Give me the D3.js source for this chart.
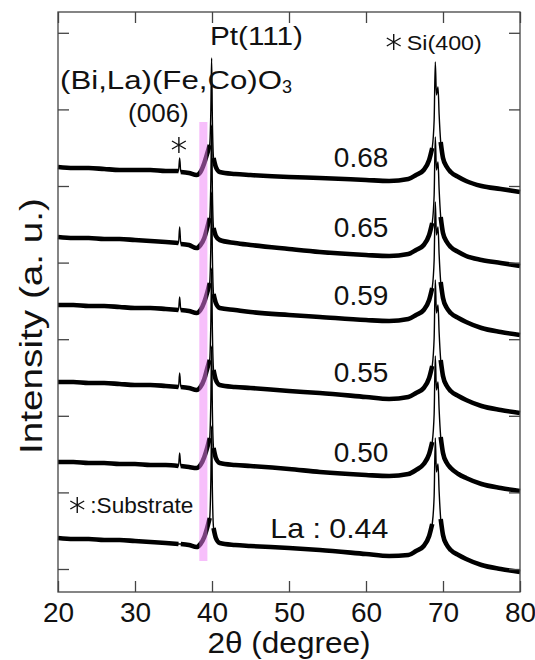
<!DOCTYPE html>
<html><head><meta charset="utf-8">
<script src="https://cdn.jsdelivr.net/npm/d3@7"></script>
<style>
body{margin:0;background:#fff}
svg{display:block}
text{font-family:"Liberation Sans",Arial,sans-serif;fill:#111}
</style>
</head><body>
<svg id="c" width="535" height="660"></svg>
<script>
// ---- data (2θ in degrees, intensity in arbitrary units, curves already offset) ----
const twoTheta = [20,22,24,26,28,30,32,34,35.65,35.8,35.95,37,38,38.5,39.0,39.4,39.7,39.85,39.95,40.05,40.2,40.5,41,43,45,50,54,60,63,65.5,66.5,67.5,68.2,68.6,68.85,69.0,69.15,69.35,69.5,69.7,70,70.5,71,72,73,75,77.5,80];
const intensity068 = [425,424,424,423,422,422,422,421,421,434,420,419,417,420,429,439,447,482,534,472,434,425,420,418,417,415,414,412,411,413,417,422,432,444,472,530,497,505,477,450,434,425,420,415,411,406,403,400];
const intensity065 = [355,354,354,353,353,352,351,350,349,365,348,347,344,347,354,365,374,412,467,402,364,356,352,349,347,343,340,337,336,338,342,347,357,369,397,455,422,430,402,375,359,350,345,340,336,332,329,326];
const intensity059 = [287,287,286,286,285,284,284,283,282,295,282,281,279,282,290,300,309,347,400,337,298,289,284,282,280,277,275,272,271,273,277,282,292,304,332,390,357,365,337,310,294,284,279,274,270,264,260,257];
const intensity055 = [210,210,209,209,208,207,207,206,205,219,205,204,202,205,213,224,232,270,324,262,222,212,207,205,204,201,199,195,193,195,199,204,214,226,254,312,279,287,259,232,216,206,201,196,192,186,182,179];
const intensity050 = [130,130,129,129,128,128,127,127,126,139,126,125,124,127,135,145,154,192,246,182,144,134,129,127,126,123,120,117,116,118,122,128,138,150,178,236,202,210,182,155,139,129,124,118,114,108,104,101];
const intensity044 = [54,53,53,52,52,51,50,49,48,48,48,47,45,48,55,65,74,112,166,102,64,54,49,47,46,44,42,38,36,37,41,46,56,68,96,154,120,128,100,73,57,47,42,37,33,27,23,20];
const seriesValues = [intensity068,intensity065,intensity059,intensity055,intensity050,intensity044];
const seriesLabels = ["0.68","0.65","0.59","0.55","0.50","La : 0.44"];
const xTicks = [20,30,40,50,60,70,80];
const yTicks = [23,99.6,176.2,252.8,329.4,406,482.6,559.2];
const bfoBand = [38.35, 39.4];     // (006) highlight range in 2θ
const bfoBandI = [31, 470];         // its intensity extent
const substratePeak = 35.7;

// ---- drawing ----
const svg = d3.select("#c");
const x = d3.scaleLinear().domain([20,80]).range([58,520]);
const y = d3.scaleLinear().domain([0,580]).range([592,12]);
const X0=x.range()[0], X1=x.range()[1], Y0=y.range()[0], Y1=y.range()[1];

const line = d3.line().curve(d3.curveMonotoneX).x(d=>x(d[0])).y(d=>y(d[1]));
const spike = t => (t>35.7 && t<35.9) || (t>39.75 && t<40.15) || (t>68.7 && t<69.65);
const thick = d3.line().curve(d3.curveMonotoneX).x(d=>x(d[0])).y(d=>y(d[1])).defined(d=>!spike(d[0]));

const gC = svg.append("g");
seriesValues.forEach(vals=>{
  const pts = twoTheta.map((t,i)=>[t,vals[i]]);
  gC.append("path").attr("d",line(pts)).attr("fill","none")
    .attr("stroke","#000").attr("stroke-width",1.4).attr("stroke-linejoin","round");
  gC.append("path").attr("d",thick(pts)).attr("fill","none")
    .attr("stroke","#000").attr("stroke-width",4.6).attr("stroke-linejoin","round").attr("stroke-linecap","butt");
});

// highlight band
svg.append("rect")
  .attr("x",x(bfoBand[0])).attr("width",x(bfoBand[1])-x(bfoBand[0]))
  .attr("y",y(bfoBandI[1])).attr("height",y(bfoBandI[0])-y(bfoBandI[1]))
  .attr("fill","#f080f8").attr("opacity",0.5);

// frame
svg.append("rect").attr("x",X0).attr("y",Y1).attr("width",X1-X0).attr("height",Y0-Y1)
  .attr("fill","none").attr("stroke","#444").attr("stroke-width",1.3);

function styleAxis(g){ g.select(".domain").remove(); g.selectAll("line").attr("stroke","#444").attr("stroke-width",1.3); }
svg.append("g").attr("transform",`translate(0,${Y0})`)
  .call(d3.axisBottom(x).tickValues(xTicks).tickSizeInner(-11).tickSizeOuter(0).tickPadding(10))
  .call(styleAxis).call(g=>g.selectAll("text").attr("font-size",28).attr("fill","#111"));
svg.append("g").attr("transform",`translate(0,${Y1})`)
  .call(d3.axisTop(x).tickValues(xTicks).tickSizeInner(-11).tickSizeOuter(0).tickFormat(""))
  .call(styleAxis);
svg.append("g").attr("transform",`translate(${X0},0)`)
  .call(d3.axisLeft(y).tickValues(yTicks).tickSizeInner(-11).tickSizeOuter(0).tickFormat(""))
  .call(styleAxis);
svg.append("g").attr("transform",`translate(${X1},0)`)
  .call(d3.axisRight(y).tickValues(yTicks).tickSizeInner(-11).tickSizeOuter(0).tickFormat(""))
  .call(styleAxis);

// axis titles
svg.append("text").attr("x",289).attr("y",653).attr("text-anchor","middle")
  .attr("font-size",29).attr("textLength",163).attr("lengthAdjust","spacingAndGlyphs").text("2θ (degree)");
svg.append("text").attr("transform","translate(42,326) rotate(-90)").attr("text-anchor","middle")
  .attr("font-size",31).attr("textLength",256).attr("lengthAdjust","spacingAndGlyphs").text("Intensity (a. u.)");

// series labels
seriesValues.forEach((vals,i)=>{
  const t = svg.append("text").attr("x",x(62.9)).attr("y",y(vals[0])).attr("text-anchor","end")
    .attr("font-size",28).text(seriesLabels[i]);
  if (i===5) t.attr("textLength",118).attr("lengthAdjust","spacingAndGlyphs");
});

// annotations
svg.append("text").attr("x",x(39.74)).attr("y",y(547)).attr("font-size",26)
  .attr("textLength",93).attr("lengthAdjust","spacingAndGlyphs").text("Pt(111)");
const bl = svg.append("text").attr("x",x(20.26)).attr("y",y(503)).attr("font-size",26);
bl.append("tspan").attr("textLength",222).attr("lengthAdjust","spacingAndGlyphs").text("(Bi,La)(Fe,Co)O");
bl.append("tspan").attr("font-size",18).attr("dy",4).text("3");
svg.append("text").attr("x",x(29.1)).attr("y",y(470)).attr("font-size",26).text("(006)");
svg.append("text").attr("x",x(65.3)).attr("y",y(542)).attr("font-size",21)
  .attr("textLength",75).attr("lengthAdjust","spacingAndGlyphs").text("Si(400)");
svg.append("text").attr("x",x(24.2)).attr("y",y(79)).attr("font-size",22)
  .attr("textLength",103).attr("lengthAdjust","spacingAndGlyphs").text(":Substrate");

const ast = d3.symbol().type(d3.symbolAsterisk).size(180);
[[substratePeak,447],[63.6,550],[22.5,87]].forEach(p=>{
  svg.append("path").attr("d",ast()).attr("transform",`translate(${x(p[0])},${y(p[1])})`)
    .attr("fill","none").attr("stroke","#111").attr("stroke-width",1.4);
});
</script>
</body></html>
